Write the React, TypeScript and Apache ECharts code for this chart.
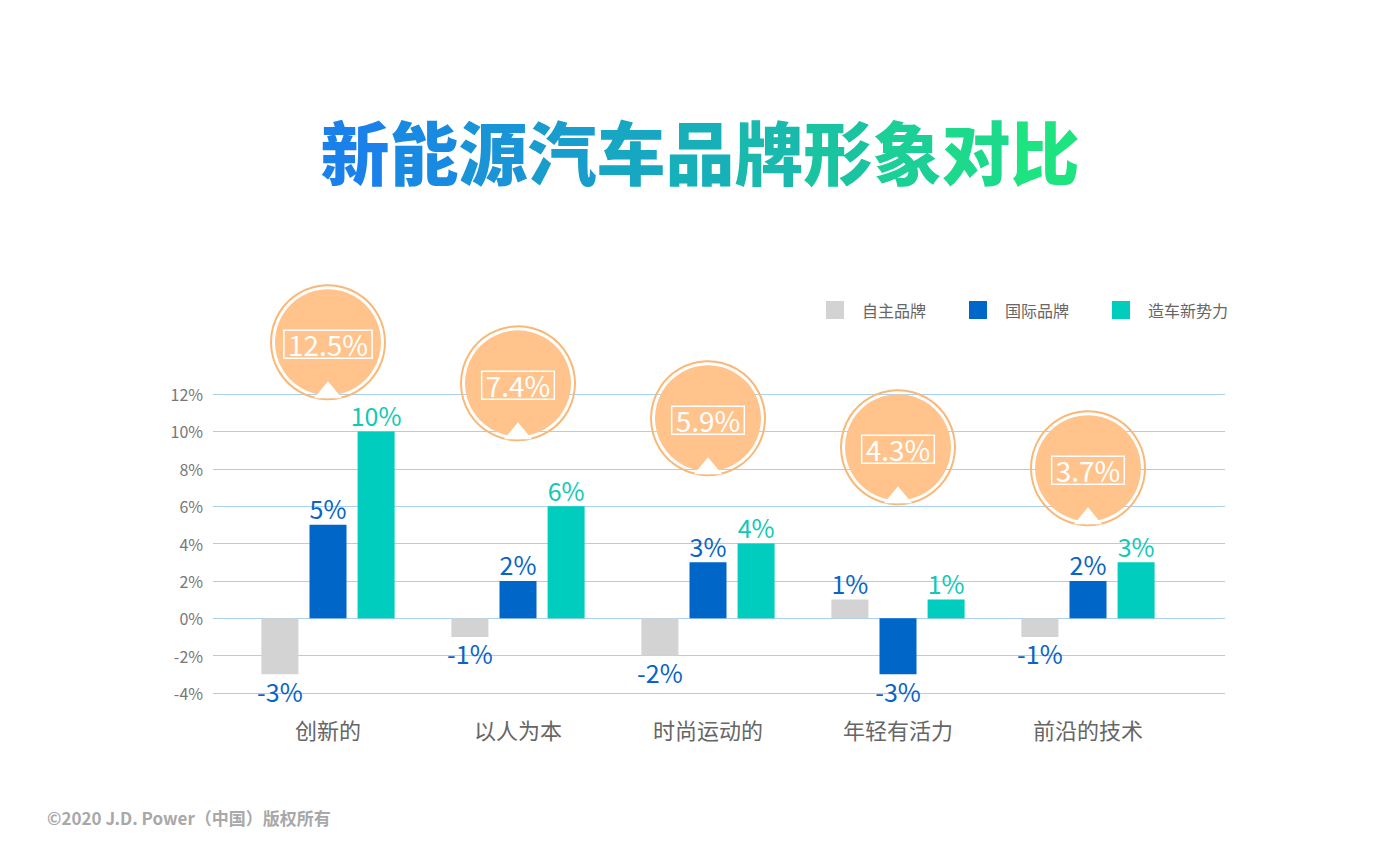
import React, { useEffect, useRef } from "react";
import * as echarts from "echarts";

const categories = ["创新的", "以人为本", "时尚运动的", "年轻有活力", "前沿的技术"];
const seriesNames = ["自主品牌", "国际品牌", "造车新势力"];
const domesticValues = [-3, -1, -2, 1, -1];
const internationalValues = [5, 2, 3, -3, 2];
const newForceValues = [10, 6, 4, 1, 3];
const bubbleValues = [12.5, 7.4, 5.9, 4.3, 3.7];
const bubbleLevels = [14.77, 12.57, 10.7, 9.15, 8.03];
const yTicks = { min: -4, max: 12, interval: 2 };
const titleText = "新能源汽车品牌形象对比";

const FONT = "'Noto Sans CJK SC', 'Noto Sans', sans-serif";

function mix(a: number[], b: number[], t: number) {
  const c = a.map((v, i) => Math.round(v + (b[i] - v) * t));
  return `rgb(${c[0]},${c[1]},${c[2]})`;
}

export default function App() {
  const ref = useRef<HTMLDivElement>(null);
  useEffect(() => {
    if (!ref.current) return;
    const chart = echarts.init(ref.current, null, { renderer: "svg" });

    const start = [26, 124, 240];
    const mid = [24, 176, 184];
    const end = [30, 232, 122];
    const chars = Array.from(titleText);
    const rich: Record<string, any> = {};
    let richText = "";
    chars.forEach((ch, i) => {
      const t = (i + 0.5) / chars.length;
      const color = t < 0.5 ? mix(start, mid, t / 0.5) : mix(mid, end, (t - 0.5) / 0.5);
      rich["c" + i] = { fill: color, fontSize: 69, fontWeight: 900, fontFamily: FONT };
      richText += `{c${i}|${ch}}`;
    });

    const barSeries = (name: string, values: number[], color: string, labelColor: string) => ({
      name,
      type: "bar",
      xAxisIndex: 1,
      yAxisIndex: 1,
      barWidth: 37,
      barGap: "30%",
      itemStyle: { color },
      data: values.map((v) => ({
        value: v,
        label: {
          show: true,
          position: v >= 0 ? "top" : "bottom",
          distance: 4,
          formatter: "{c}%",
          color: labelColor,
          fontSize: 25,
          fontFamily: FONT,
        },
      })),
    });

    chart.setOption({
      animation: false,
      textStyle: { fontFamily: FONT },
      graphic: [
        {
          type: "text",
          left: "center",
          top: 115,
          style: {
            text: richText,
            rich,
            fontSize: 69,
            fontWeight: 900,
            fontFamily: FONT,
          },
        },
        {
          type: "text",
          left: 47,
          top: 809,
          style: {
            text: "©2020 J.D. Power（中国）版权所有",
            fontSize: 17,
            fontWeight: "bold",
            fontFamily: FONT,
            fill: "#a8a8a8",
          },
        },
      ],
      legend: {
        left: 821,
        top: 296,
        itemWidth: 18,
        itemHeight: 18,
        itemGap: 43,
        icon: "rect",
        data: seriesNames,
        textStyle: { fontSize: 16, color: "#666", padding: [0, 0, 0, 13], fontFamily: FONT },
      },
      grid: [
        { left: 213, right: 175, top: 394, height: 299 },
        { left: 233, width: 950, top: 394, height: 299 },
      ],
      xAxis: [
        { type: "category", gridIndex: 0, data: categories, show: false },
        {
          type: "category",
          gridIndex: 1,
          data: categories,
          axisLine: { show: false },
          axisTick: { show: false },
          axisLabel: { color: "#666", fontSize: 22, margin: 25, fontFamily: FONT },
        },
      ],
      yAxis: [
        {
          type: "value",
          gridIndex: 0,
          min: yTicks.min,
          max: yTicks.max,
          interval: yTicks.interval,
          axisLine: { show: false },
          axisTick: { show: false },
          axisLabel: { formatter: "{value}%", color: "#777", fontSize: 16, margin: 10, fontFamily: FONT },
          splitLine: { lineStyle: { color: "#a9cff3", width: 1 } },
        },
        {
          type: "value",
          gridIndex: 1,
          min: yTicks.min,
          max: yTicks.max,
          interval: yTicks.interval,
          show: false,
          splitLine: { show: false },
        },
      ],
      series: [
        barSeries(seriesNames[0], domesticValues, "#d3d3d3", "#0a64c6"),
        barSeries(seriesNames[1], internationalValues, "#0066c8", "#0a64c6"),
        barSeries(seriesNames[2], newForceValues, "#00cdbd", "#12c8b8"),
        {
          type: "custom",
          xAxisIndex: 1,
          yAxisIndex: 1,
          clip: false,
          z: 10,
          data: bubbleValues.map((v, i) => [i, bubbleLevels[i], v]),
          encode: { x: 0, y: 1 },
          renderItem: (params: any, api: any) => {
            const p = api.coord([api.value(0), api.value(1)]);
            const cx = p[0];
            const cy = p[1];
            return {
              type: "group",
              children: [
                {
                  type: "circle",
                  shape: { cx, cy, r: 57 },
                  style: { fill: "none", stroke: "#f8b878", lineWidth: 2 },
                },
                {
                  type: "circle",
                  shape: { cx, cy, r: 53 },
                  style: { fill: "#ffc38b" },
                },
                {
                  type: "polygon",
                  shape: {
                    points: [
                      [cx - 14, cy + 56],
                      [cx, cy + 39],
                      [cx + 14, cy + 56],
                    ],
                  },
                  style: { fill: "#fff" },
                },
                {
                  type: "text",
                  x: cx,
                  y: cy + 2,
                  style: {
                    text: api.value(2) + "%",
                    fontSize: 28,
                    fontFamily: FONT,
                    fill: "#fff",
                    align: "center",
                    verticalAlign: "middle",
                    borderColor: "#fff",
                    borderWidth: 1.5,
                    padding: [0, 4, 0, 4],
                  },
                },
              ],
            };
          },
        },
      ],
    });
    return () => chart.dispose();
  }, []);
  return (
    <div
      ref={ref}
      style={{ position: "fixed", left: 0, top: 0, width: 1400, height: 851, background: "#fff" }}
    />
  );
}
